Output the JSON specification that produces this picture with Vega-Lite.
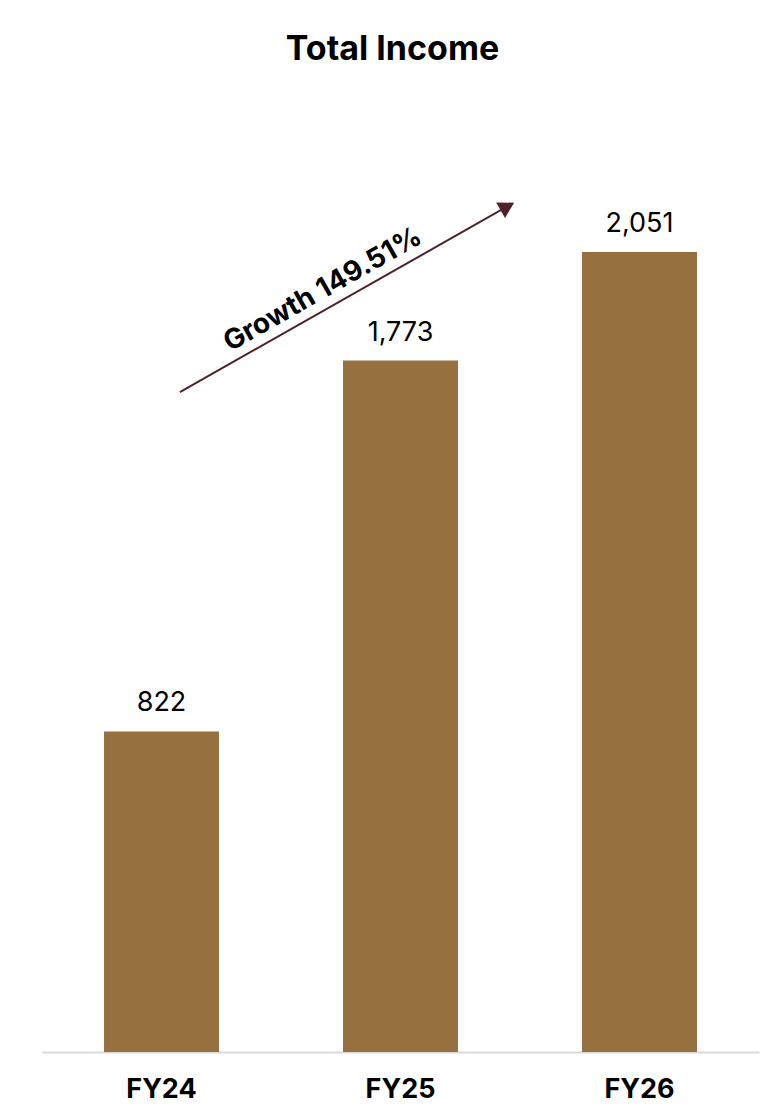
{
  "$schema": "https://vega.github.io/schema/vega-lite/v6.json",
  "autosize": "none",
  "width": 717,
  "height": 975,
  "padding": {"left": 42, "top": 77, "right": 14, "bottom": 64},
  "background": "white",
  "config": {"view": {"stroke": null}, "font": "Inter"},
  "title": {"text": "Total Income", "fontSize": 34, "fontWeight": "bold", "font": "Inter", "color": "#000000", "anchor": "middle", "dx": -8, "offset": 10, "letterSpacing": 1},
  "datasets": {
    "bars": [
      {"year": "FY24", "value": 822, "label": "822"},
      {"year": "FY25", "value": 1773, "label": "1,773"},
      {"year": "FY26", "value": 2051, "label": "2,051"}
    ],
    "arrow": [
      {"x": 0.077, "y": 1692, "x2": 1.47, "y2": 2176}
    ],
    "head": [
      {"x": 1.447, "y": 2168}
    ],
    "note": [
      {"x": 0.676, "y": 1954, "text": "Growth 149.51%"}
    ]
  },
  "layer": [
    {
      "data": {"name": "bars"},
      "mark": {"type": "bar", "color": "#96703F"},
      "encoding": {
        "x": {"field": "year", "type": "nominal", "sort": null,
          "scale": {"paddingInner": 0.519, "paddingOuter": 0.2595},
          "axis": {"title": null, "labelAngle": 0, "labelFontSize": 27, "labelFontWeight": "bold", "labelFont": "Inter", "labelColor": "#000000", "labelPadding": 24, "ticks": false, "domainColor": "#d9d9d9", "domainWidth": 2, "grid": false}},
        "y": {"field": "value", "type": "quantitative", "scale": {"domain": [0, 2500], "nice": false}, "axis": null}
      }
    },
    {
      "data": {"name": "bars"},
      "mark": {"type": "text", "baseline": "alphabetic", "dy": -20, "fontSize": 27, "font": "Inter", "color": "#000000", "letterSpacing": 0.5},
      "encoding": {
        "x": {"field": "year", "type": "nominal", "sort": null, "scale": {"paddingInner": 0.519, "paddingOuter": 0.2595}, "axis": null},
        "y": {"field": "value", "type": "quantitative", "scale": {"domain": [0, 2500], "nice": false}, "axis": null},
        "text": {"field": "label"}
      }
    },
    {
      "data": {"name": "arrow"},
      "mark": {"type": "rule", "color": "#4D2226", "strokeWidth": 2},
      "encoding": {
        "x": {"field": "x", "type": "quantitative", "scale": {"domain": [-0.5, 2.5], "nice": false, "zero": false}, "axis": null},
        "x2": {"field": "x2"},
        "y": {"field": "y", "type": "quantitative", "scale": {"domain": [0, 2500], "nice": false}, "axis": null},
        "y2": {"field": "y2"}
      }
    },
    {
      "data": {"name": "head"},
      "mark": {"type": "point", "shape": "triangle-right", "filled": true, "opacity": 1, "color": "#4D2226", "size": 320, "angle": -29.6},
      "encoding": {
        "x": {"field": "x", "type": "quantitative", "scale": {"domain": [-0.5, 2.5], "nice": false, "zero": false}, "axis": null},
        "y": {"field": "y", "type": "quantitative", "scale": {"domain": [0, 2500], "nice": false}, "axis": null}
      }
    },
    {
      "data": {"name": "note"},
      "mark": {"type": "text", "angle": -29.6, "fontSize": 28, "fontWeight": "bold", "font": "Inter", "color": "#000000", "align": "center", "baseline": "middle", "letterSpacing": 0.5},
      "encoding": {
        "x": {"field": "x", "type": "quantitative", "scale": {"domain": [-0.5, 2.5], "nice": false, "zero": false}, "axis": null},
        "y": {"field": "y", "type": "quantitative", "scale": {"domain": [0, 2500], "nice": false}, "axis": null},
        "text": {"field": "text"}
      }
    }
  ],
  "resolve": {"scale": {"x": "independent"}}
}
